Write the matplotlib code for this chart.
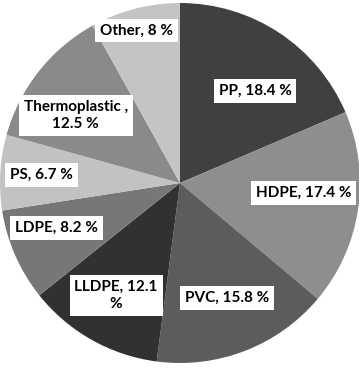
import numpy as np
import matplotlib.pyplot as plt

# plastic types and their share (%), clockwise from 12 o'clock
names = ["PP", "HDPE", "PVC", "LLDPE", "LDPE", "PS", "Thermoplastic", "Other"]
shares = [18.4, 17.4, 15.8, 12.1, 8.2, 6.7, 12.5, 8.0]
label_texts = ["PP, 18.4 %", "HDPE, 17.4 %", "PVC, 15.8 %", "LLDPE, 12.1\n%",
               "LDPE, 8.2 %", "PS, 6.7 %", "Thermoplastic ,\n12.5 %", "Other, 8 %"]

# styling
colors = ["#404040", "#8e8e8e", "#5c5c5c", "#313131",
          "#777777", "#c2c2c2", "#8a8a8a", "#c4c4c4"]
# label placement: radius (fraction of pie radius) and angle nudge (deg)
label_r = [0.66, 0.69, 0.69, 0.72, 0.73, 0.77, 0.69, 0.88]
label_dang = [-5.8, 3.9, 1.0, -0.1, -3.6, 0.1, 5.3, 1.3]

fig = plt.figure(figsize=(3.59, 3.68), dpi=100)
ax = fig.add_axes([0, 0, 1, 1])

wedges, _ = ax.pie(shares, colors=colors, startangle=90, counterclock=False,
                   wedgeprops=dict(linewidth=0))

for w, txt, r, da in zip(wedges, label_texts, label_r, label_dang):
    mid = np.deg2rad((w.theta1 + w.theta2) / 2 + da)
    ax.text(r * np.cos(mid), r * np.sin(mid), txt, ha="center", va="center",
            fontsize=11, fontweight="bold", family=["Lato", "DejaVu Sans"],
            linespacing=1.3,
            bbox=dict(boxstyle="square,pad=0.32", fc="white", ec="none"))

# pixel-consistent limits so the circle stays round
ax.set_aspect("auto")
ax.set_xlim(-1.0, 359 / 180 - 1.0)
ax.set_ylim(-185 / 180, 183 / 180)
ax.axis("off")

fig.savefig("out.png", dpi=100)
